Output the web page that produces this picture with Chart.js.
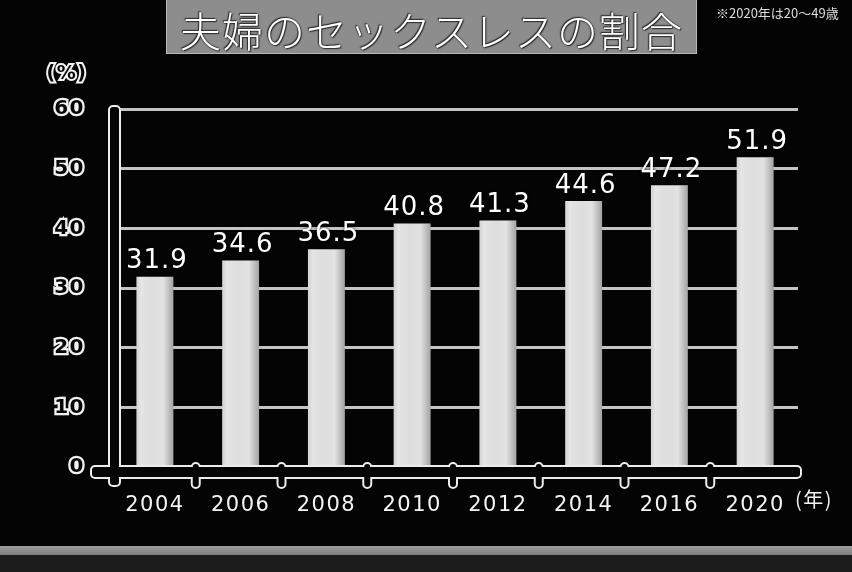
<!DOCTYPE html>
<html>
<head>
<meta charset="utf-8">
<script src="https://cdn.jsdelivr.net/npm/chart.js@4"></script>
<style>
  html, body { margin: 0; padding: 0; background: #040404; overflow: hidden; }
  #wrap { position: relative; width: 852px; height: 572px; }
  #chart { position: absolute; left: 0; top: 0; }
  .title {
    position: absolute; left: 166px; top: -3px; width: 531px; height: 57px;
    background: #8d8d8d; border: 1px solid #b8b8b8; box-sizing: border-box;
    color: #fff; font-family: "Noto Sans CJK JP", sans-serif; font-weight: 300;
    font-size: 41px; line-height: 62px; text-align: center; letter-spacing: 1px;
    text-shadow: 0 0 2px #222, 1px 1px 1px #333, -1px -1px 1px #333;
  }
  .note {
    position: absolute; left: 716px; top: 3px; color: #dcdcdc;
    font-family: "Noto Sans CJK JP", sans-serif; font-size: 13px;
  }
  .stripe { position: absolute; left: 0; top: 546px; width: 852px; height: 9px;
    background: linear-gradient(#a0a0a0, #7c7c7c); }
  .foot { position: absolute; left: 0; top: 555px; width: 852px; height: 17px; background: #1c1c1c; }
</style>
</head>
<body>
<div id="wrap">
  <canvas id="chart" width="852" height="572"></canvas>
  <div class="title">夫婦のセックスレスの割合</div>
  <div class="note">※2020年は20〜49歳</div>
  <div class="stripe"></div>
  <div class="foot"></div>
</div>
<script>
const years = ['2004', '2006', '2008', '2010', '2012', '2014', '2016', '2020'];
const sexlessRate = [31.9, 34.6, 36.5, 40.8, 41.3, 44.6, 47.2, 51.9];
const yTicks = [0, 10, 20, 30, 40, 50, 60];
const yUnit = '(%)';
const xUnit = '(年)';

// outlined axis bars, bar shading and the value labels
const decorPlugin = {
  id: 'decor',
  beforeDraw(chart) {
    chart.ctx.letterSpacing = '1.5px';
  },
  afterDatasetsDraw(chart) {
    const ctx = chart.ctx;
    const area = chart.chartArea;
    const xs = chart.scales.x;
    const meta = chart.getDatasetMeta(0);

    // soft shading on each bar
    meta.data.forEach(bar => {
      const w = bar.width;
      const g = ctx.createLinearGradient(bar.x - w / 2, 0, bar.x + w / 2, 0);
      g.addColorStop(0, 'rgba(0,0,0,0.06)');
      g.addColorStop(0.12, 'rgba(255,255,255,0.1)');
      g.addColorStop(0.72, 'rgba(0,0,0,0)');
      g.addColorStop(1, 'rgba(0,0,0,0.28)');
      ctx.save();
      ctx.fillStyle = g;
      ctx.fillRect(bar.x - w / 2, bar.y, w, bar.base - bar.y);
      ctx.restore();
    });

    const L = area.left, B = area.bottom, R = area.right;
    const step = (xs.getPixelForValue(1) - xs.getPixelForValue(0));
    const shapes = [];
    shapes.push([L - 2, area.top - 2, 9, B - area.top + 20]);
    shapes.push([L - 20, B, R - L + 22, 10]);
    for (let i = 1; i < years.length; i++) {
      const bx = xs.getPixelForValue(i) - step / 2 - 2;
      shapes.push([bx - 3, B - 3, 6, 23]);
    }
    ctx.save();
    ctx.lineJoin = 'round';
    ctx.strokeStyle = '#ececec';
    ctx.lineWidth = 4;
    shapes.forEach(s => { ctx.beginPath(); ctx.roundRect(s[0], s[1], s[2], s[3], 3); ctx.stroke(); });
    ctx.fillStyle = '#050505';
    shapes.forEach(s => { ctx.beginPath(); ctx.roundRect(s[0], s[1], s[2], s[3], 3); ctx.fill(); });
    ctx.restore();

    // value labels
    ctx.save();
    ctx.font = '26px "DejaVu Sans"';
    ctx.letterSpacing = '1px';
    ctx.textAlign = 'center';
    ctx.textBaseline = 'bottom';
    ctx.fillStyle = '#ffffff';
    ctx.shadowColor = 'rgba(0,0,0,0.9)';
    ctx.shadowBlur = 3;
    meta.data.forEach((bar, i) => {
      ctx.fillText(sexlessRate[i].toFixed(1), bar.x + 2, bar.y - 2);
    });
    ctx.restore();

    // unit labels
    ctx.save();
    ctx.font = 'bold 19px "DejaVu Sans"';
    ctx.textAlign = 'center';
    ctx.textBaseline = 'middle';
    ctx.lineWidth = 4;
    ctx.strokeStyle = '#f2f2f2';
    ctx.strokeText(yUnit, 67, 74);
    ctx.fillStyle = '#050505';
    ctx.fillText(yUnit, 67, 74);
    ctx.font = '20px "Noto Sans CJK JP"';
    ctx.fillStyle = '#f2f2f2';
    ctx.textAlign = 'left';
    ctx.fillText(xUnit, 795, 499);
    ctx.restore();
  }
};

new Chart(document.getElementById('chart'), {
  type: 'bar',
  data: {
    labels: years,
    datasets: [{
      data: sexlessRate,
      backgroundColor: '#e3e3e3',
      borderWidth: 0,
      categoryPercentage: 1,
      barPercentage: 0.43
    }]
  },
  options: {
    responsive: false,
    animation: false,
    layout: { padding: { top: 109, right: 54, left: 0, bottom: 0 } },
    plugins: { legend: { display: false }, tooltip: { enabled: false } },
    scales: {
      x: {
        grid: { display: false },
        border: { display: false },
        ticks: {
          color: '#f4f4f4',
          font: { family: 'DejaVu Sans', size: 21 },
          padding: 18,
          maxRotation: 0
        },
        afterFit(scale) { scale.height = 105; }
      },
      y: {
        min: 0,
        max: 60,
        afterBuildTicks(scale) { scale.ticks = yTicks.map(v => ({ value: v })); },
        grid: { color: '#c4c4c4', lineWidth: 3, drawTicks: false },
        border: { display: false },
        ticks: {
          color: '#050505',
          textStrokeColor: '#f2f2f2',
          textStrokeWidth: 4.5,
          font: { family: 'DejaVu Sans', size: 20, weight: 'bold' },
          padding: 27
        },
        afterFit(scale) { scale.width = 112; }
      }
    }
  },
  plugins: [decorPlugin]
});
</script>
</body>
</html>
